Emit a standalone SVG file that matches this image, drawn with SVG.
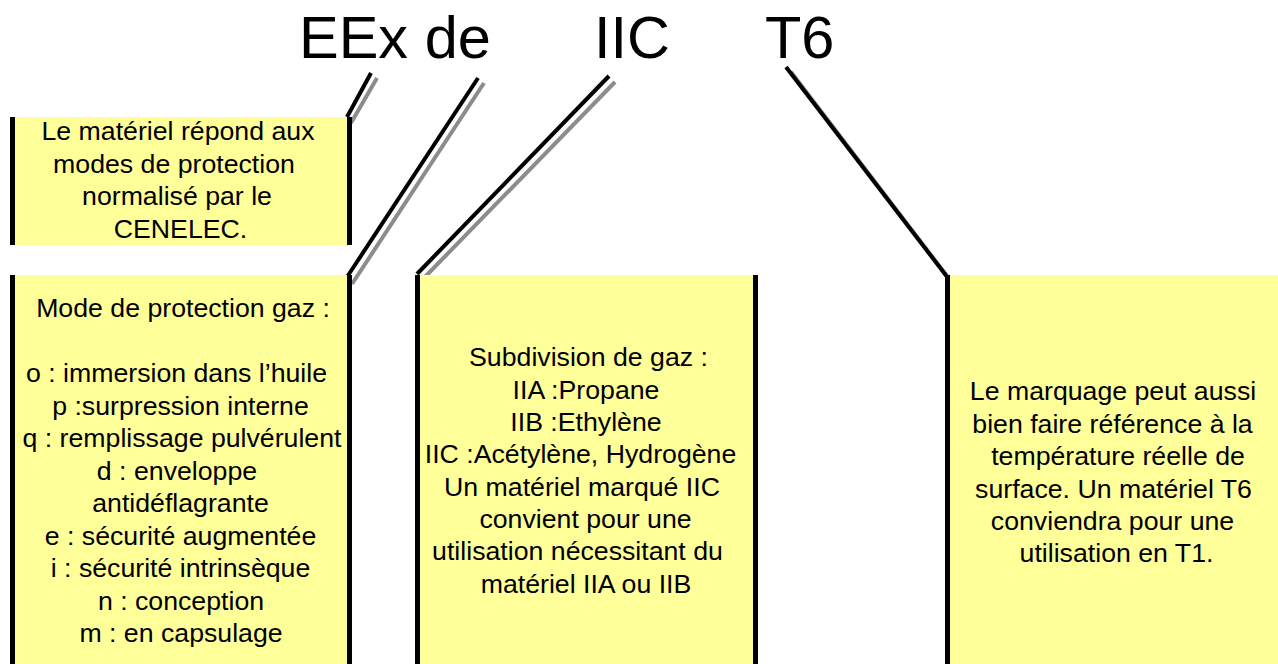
<svg xmlns="http://www.w3.org/2000/svg" width="1278" height="664" viewBox="0 0 1278 664">
  <style>
    .fill { fill: #FFFF99; }
    .bar { fill: #000000; }
    .title { font-family: "Liberation Sans", Arial, sans-serif; font-size: 59.5px; fill: #000; }
    .body { font-family: "Liberation Sans", Arial, sans-serif; font-size: 26.7px; fill: #000; text-anchor: middle; }
    .lead { fill: none; stroke: #000; stroke-width: 4; stroke-linecap: butt; }
    .shadow { fill: none; stroke: #8c8c8c; stroke-width: 4; stroke-linecap: butt; }
  </style>
  <rect width="1278" height="664" fill="#FFFFFF"/>

  <!-- marking code -->
  <g id="title">
    <text class="title" x="299" y="58">EEx de</text>
    <text class="title" x="594" y="58">IIC</text>
    <text class="title" x="765" y="58">T6</text>
  </g>

  <!-- leader lines with drop shadow -->
  <g id="connectors">
    <line class="shadow" x1="377" y1="78" x2="351" y2="123"/>
    <line class="lead" x1="371" y1="73" x2="347" y2="117"/>
    <line class="shadow" x1="484" y1="83" x2="352" y2="284"/>
    <line class="lead" x1="478" y1="78" x2="347" y2="277"/>
    <line class="shadow" x1="615" y1="82" x2="422" y2="280"/>
    <line class="lead" x1="609" y1="76" x2="417" y2="274"/>
    <line class="shadow" x1="791" y1="72" x2="950" y2="280"/>
    <line class="lead" x1="786" y1="67" x2="948" y2="278"/>
  </g>

  <g id="box-cenelec">
    <rect class="fill" x="15" y="117" width="332" height="128"/>
    <rect class="bar" x="10" y="117" width="5" height="128"/>
    <rect class="bar" x="347" y="117" width="5" height="128"/>
    <text class="body" x="178" y="140">Le matériel répond aux</text>
    <text class="body" x="174" y="172.5">modes de protection</text>
    <text class="body" x="177" y="205">normalisé par le</text>
    <text class="body" x="180.5" y="237.5">CENELEC.</text>
  </g>

  <g id="box-protection">
    <rect class="fill" x="15" y="275" width="332" height="389"/>
    <rect class="bar" x="10" y="275" width="5" height="389"/>
    <rect class="bar" x="347" y="275" width="5" height="389"/>
    <text class="body" x="183" y="317">Mode de protection gaz :</text>
    <text class="body" x="176.5" y="382">o : immersion dans l’huile</text>
    <text class="body" x="180.5" y="414.5">p :surpression interne</text>
    <text class="body" x="182" y="447">q : remplissage pulvérulent</text>
    <text class="body" x="177" y="479.5">d : enveloppe</text>
    <text class="body" x="180.5" y="512">antidéflagrante</text>
    <text class="body" x="180.5" y="544.5">e : sécurité augmentée</text>
    <text class="body" x="180.5" y="577">i : sécurité intrinsèque</text>
    <text class="body" x="181" y="609.5">n : conception</text>
    <text class="body" x="181" y="642">m : en capsulage</text>
  </g>

  <g id="box-gas-group">
    <rect class="fill" x="420" y="275" width="333" height="389"/>
    <rect class="bar" x="415" y="275" width="5" height="389"/>
    <rect class="bar" x="753" y="275" width="5" height="389"/>
    <text class="body" x="588.5" y="366">Subdivision de gaz :</text>
    <text class="body" x="586" y="398.5">IIA :Propane</text>
    <text class="body" x="586" y="431">IIB :Ethylène</text>
    <text class="body" x="580.5" y="463">IIC :Acétylène, Hydrogène</text>
    <text class="body" x="582" y="495.5">Un matériel marqué IIC</text>
    <text class="body" x="585.5" y="528">convient pour une</text>
    <text class="body" x="577.5" y="560">utilisation nécessitant du</text>
    <text class="body" x="586" y="593">matériel IIA ou IIB</text>
  </g>

  <g id="box-temperature">
    <rect class="fill" x="950" y="275" width="340" height="389"/>
    <rect class="bar" x="945" y="275" width="5" height="389"/>
    <text class="body" x="1113" y="400">Le marquage peut aussi</text>
    <text class="body" x="1112.5" y="432.5">bien faire référence à la</text>
    <text class="body" x="1118" y="465">température réelle de</text>
    <text class="body" x="1113.5" y="497.5">surface. Un matériel T6</text>
    <text class="body" x="1112.5" y="530">conviendra pour une</text>
    <text class="body" x="1116.5" y="562">utilisation en T1.</text>
  </g>
</svg>
